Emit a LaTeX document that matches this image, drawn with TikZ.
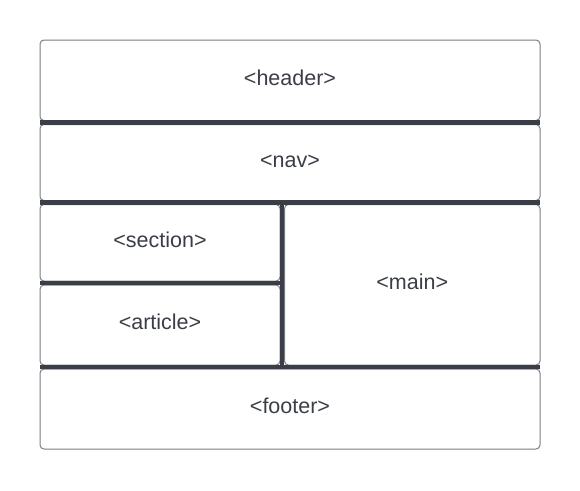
\documentclass[tikz,border=0pt]{standalone}
\usepackage{fontspec}
\setmainfont{Liberation Sans}
\usetikzlibrary{calc}

\definecolor{barGrey}{HTML}{3A3F47}
\definecolor{edgeGrey}{HTML}{7A7D83}
\definecolor{textGrey}{HTML}{3B3E46}

\tikzset{
  tagbox/.style = {draw = edgeGrey, line width = 1pt, rounded corners = 4pt,
                   inner sep = 0pt, text = textGrey,
                   text height = 15.5pt, text depth = 6pt,
                   font = \fontsize{21.5}{24}\selectfont},
  bar/.style    = {draw = barGrey, line width = 4.5pt}
}

\begin{document}
\begin{tikzpicture}[x = 1pt, y = -1pt]
    \useasboundingbox (0,0) rectangle (580,490);

    % Define dimensions
    \def\leftEdge{40}
    \def\rightEdge{540}
    \def\splitX{282}

    %Full width rows
    \node[tagbox, minimum width = 500pt, minimum height = 80.5pt] (header) at (290,80.25) {<header>};
    \node[tagbox, minimum width = 500pt, minimum height = 76pt]   (nav)    at (290,162.5) {<nav>};
    \node[tagbox, minimum width = 500pt, minimum height = 80pt]   (footer) at (290,409)   {<footer>};

    %Split rows
    \node[tagbox, minimum width = 240pt, minimum height = 76.5pt]  (section) at (160,242.75) {<section>};
    \node[tagbox, minimum width = 240pt, minimum height = 80pt]    (article) at (160,325)    {<article>};
    \node[tagbox, minimum width = 255.5pt, minimum height = 160.5pt] (main)  at (412.25,284.75) {<main>};

    %Dividing bars
    \draw[bar] (\leftEdge,122.5) coordinate (h1) -- (\rightEdge,122.5) coordinate (h2);
    \draw[bar] (\leftEdge,202.5) coordinate (n1) -- (\rightEdge,202.5) coordinate (n2);
    \draw[bar] (\leftEdge,283)   coordinate (s1) -- (\splitX,283)      coordinate (s2);
    \draw[bar] (\leftEdge,367)   coordinate (f1) -- (\rightEdge,367)   coordinate (f2);
    \draw[bar] (\splitX,202.5)   coordinate (v1) -- (\splitX,367)      coordinate (v2);

\end{tikzpicture}
\end{document}
